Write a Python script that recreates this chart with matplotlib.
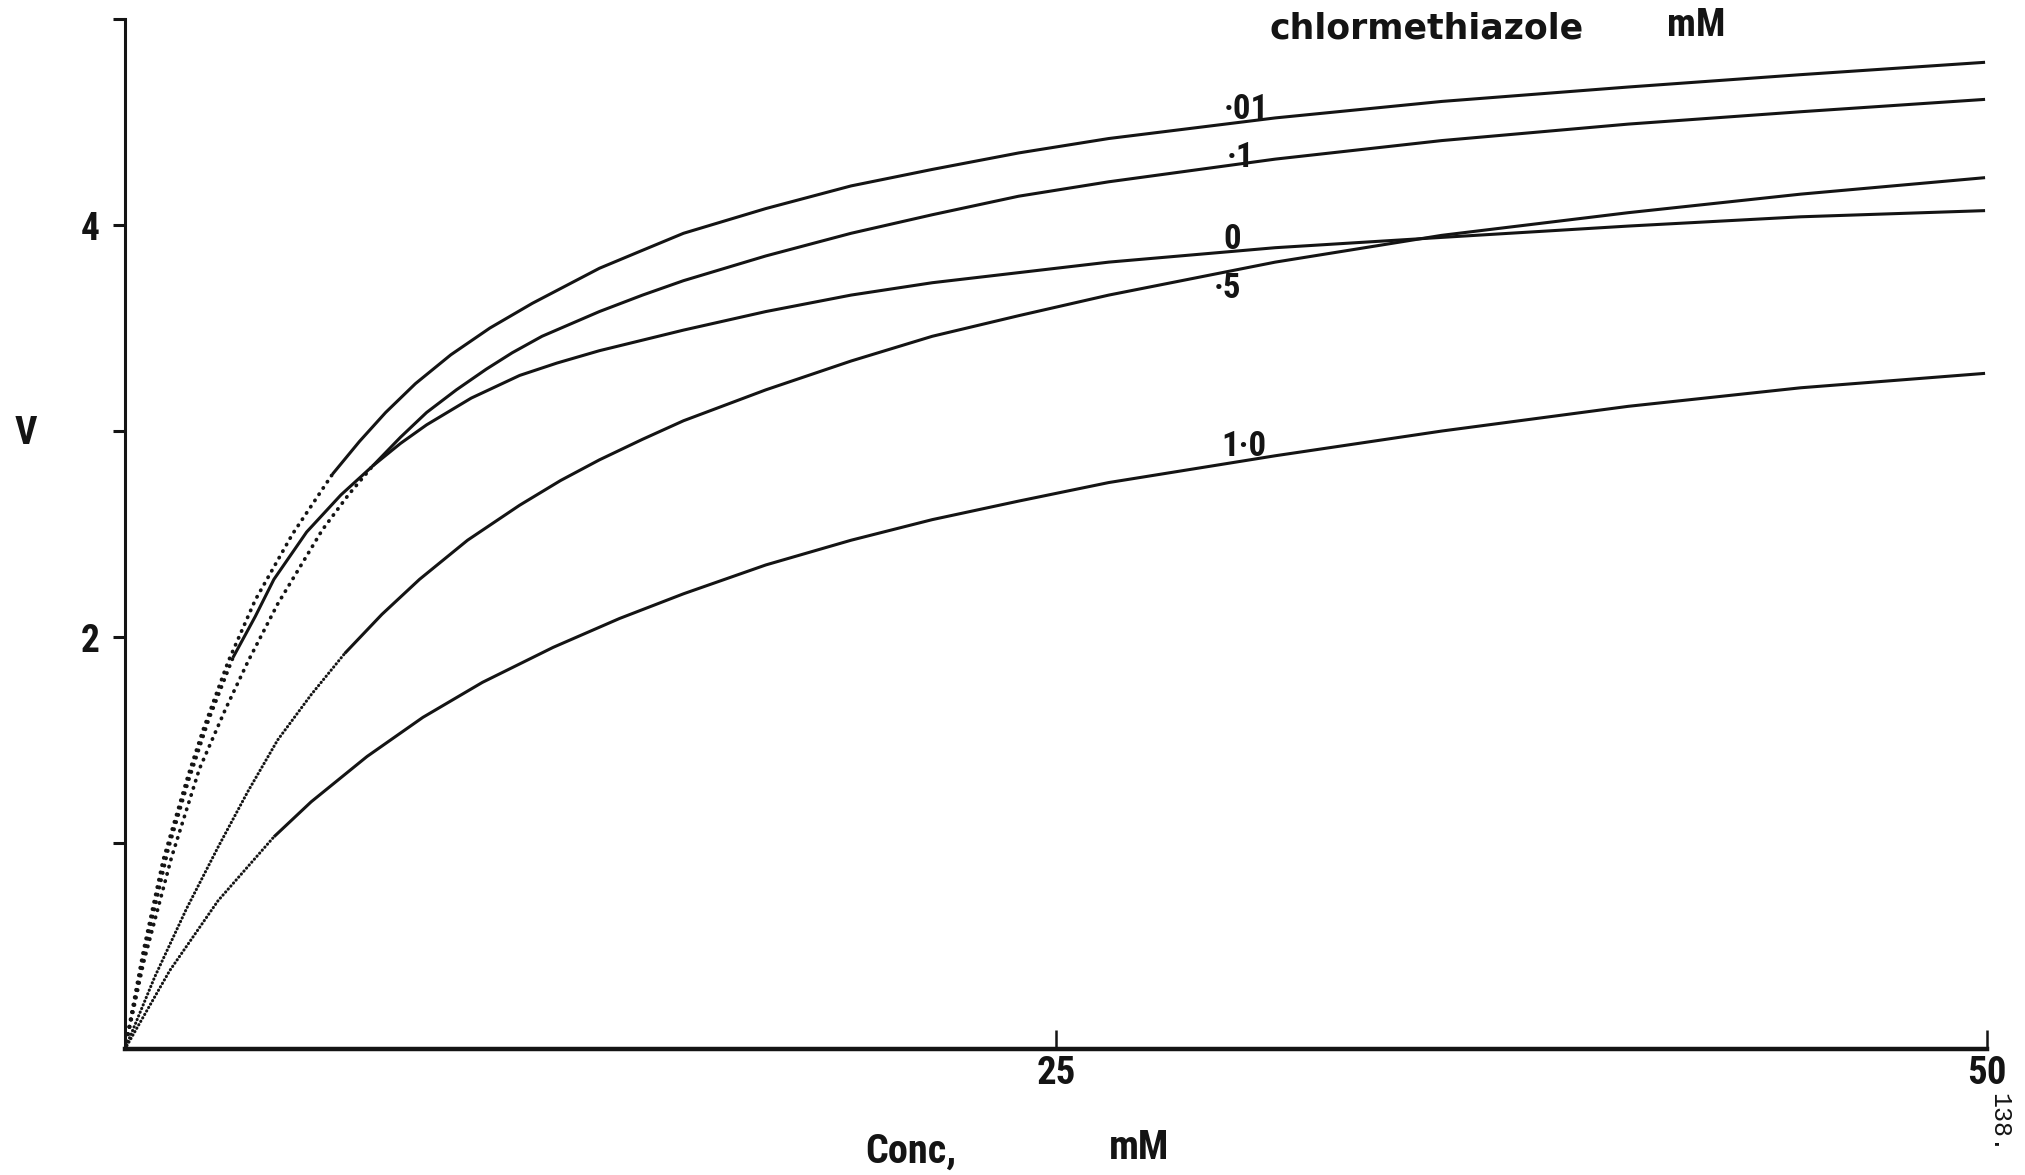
#!/usr/bin/env python3
"""
Velocity vs substrate concentration at several chlormethiazole levels.
Redrawn from a scanned figure (page 138).
"""

import numpy as np
import matplotlib.pyplot as plt
from matplotlib import font_manager

# chlormethiazole concentrations (mM) and their curve labels
conc_labels = ['·01', '·1', '0', '·5', '1·0']

# substrate concentration (mM) / velocity readings for each curve
x_001 = [0, 0.5, 1.03, 1.7, 2.1, 2.77, 3.5, 4.5, 5.57, 6.3, 7.0, 7.8, 8.75, 9.8,
         10.94, 12.74, 13.8, 15.0, 17.21, 19.5, 21.68, 24.0, 26.42, 30.89,
         35.36, 40.37, 45.0, 49.95]
v_001 = [0, 0.48, 0.92, 1.33, 1.55, 1.88, 2.18, 2.50, 2.79, 2.95, 3.09, 3.23, 3.37, 3.50,
         3.62, 3.79, 3.87, 3.96, 4.08, 4.19, 4.27, 4.35, 4.42, 4.52,
         4.60, 4.67, 4.73, 4.79]

x_01 = [0, 0.5, 1.25, 2.0, 2.7, 3.3, 4.1, 5.3, 6.0, 6.65, 7.4, 8.1, 8.9, 9.7,
        10.4, 11.2, 12.74, 13.9, 15.0, 17.21, 19.5, 21.68, 24.0, 26.42, 30.89,
        35.36, 40.37, 45.0, 49.95]
v_01 = [0, 0.42, 0.93, 1.36, 1.65, 1.88, 2.16, 2.52, 2.69, 2.83, 2.97, 3.09, 3.20, 3.30,
        3.38, 3.46, 3.58, 3.66, 3.73, 3.85, 3.96, 4.05, 4.14, 4.21, 4.32,
        4.41, 4.49, 4.55, 4.61]

x_0 = [0, 0.5, 1.16, 1.7, 2.25, 2.9, 3.5, 4.0, 4.88, 5.8, 6.65, 7.4, 8.1, 9.3,
       10.6, 11.6, 12.74, 15.0, 17.21, 19.5, 21.68, 26.42, 30.89, 35.36, 40.37,
       45.0, 49.95]
v_0 = [0, 0.45, 0.97, 1.30, 1.60, 1.90, 2.10, 2.28, 2.51, 2.69, 2.83, 2.94, 3.03, 3.16,
       3.27, 3.33, 3.39, 3.49, 3.58, 3.66, 3.72, 3.82, 3.89, 3.94, 3.995,
       4.04, 4.07]

x_05 = [0, 0.8, 1.65, 2.5, 3.3, 4.1, 5.0, 5.9, 6.9, 7.91, 9.2, 10.6, 11.7, 12.74,
        13.9, 15.0, 17.21, 19.5, 21.68, 24.0, 26.42, 30.89, 35.36, 40.37, 45.0, 49.95]
v_05 = [0, 0.35, 0.68, 0.98, 1.25, 1.50, 1.72, 1.92, 2.11, 2.28, 2.47, 2.64, 2.76, 2.86,
        2.96, 3.05, 3.20, 3.34, 3.46, 3.56, 3.66, 3.82, 3.95, 4.06, 4.15, 4.23]

x_10 = [0, 1.2, 2.5, 4.0, 5.0, 6.5, 8.0, 9.6, 11.5, 13.28, 15.0, 17.21, 19.5,
        21.68, 24.0, 26.42, 30.89, 35.36, 40.37, 45.0, 49.95]
v_10 = [0, 0.38, 0.72, 1.03, 1.20, 1.42, 1.61, 1.78, 1.95, 2.09, 2.21, 2.35, 2.47,
        2.57, 2.66, 2.75, 2.88, 3.00, 3.12, 3.21, 3.28]

# where the drawn (solid) part of each curve starts; below it is extrapolated
measured_from = [5.57, 6.65, 2.9, 5.9, 4.0]

# label anchor points (x, V)
label_x = [30.1, 29.95, 29.73, 29.6, 30.04]
label_y = [4.56, 4.33, 3.93, 3.69, 2.925]

x_ticks = [25, 50]
y_ticks = [1, 2, 3, 4, 5]
y_ticklabels = ['', '2', '', '4', '']


def pick_font(candidates):
    names = {f.name for f in font_manager.fontManager.ttflist}
    for name in candidates:
        if name in names:
            return name
    return 'DejaVu Sans'


def main():
    narrow = pick_font(['Liberation Sans Narrow', 'Roboto Condensed',
                        'Liberation Sans', 'DejaVu Sans'])
    wide = 'DejaVu Sans'
    mono = pick_font(['Liberation Mono', 'DejaVu Sans Mono'])
    ink = '#141414'

    fig = plt.figure(figsize=(20.25, 11.75), dpi=100)
    ax = fig.add_axes([0.0617, 0.1072, 0.9195, 0.8766])

    curves = [(x_001, v_001), (x_01, v_01), (x_0, v_0), (x_05, v_05), (x_10, v_10)]
    # first three have coarse dots, last two fine dots
    dot_lw = [2.7, 2.7, 2.7, 2.2, 2.2]
    dot_gap = [1.9, 1.9, 1.9, 1.2, 1.2]

    for (xs, vs), x_start, lw, gap in zip(curves, measured_from, dot_lw, dot_gap):
        xs = np.asarray(xs)
        vs = np.asarray(vs)
        dotted = xs <= x_start
        solid = xs >= x_start
        ax.plot(xs[dotted], vs[dotted], color=ink, lw=lw,
                linestyle=(0, (0.1, gap)), dash_capstyle='round', clip_on=False)
        ax.plot(xs[solid], vs[solid], color=ink, lw=2.2,
                solid_capstyle='butt', solid_joinstyle='round', clip_on=False)

    # curve labels
    for text, lx, ly in zip(conc_labels, label_x, label_y):
        ax.text(lx, ly, text, ha='center', va='center', fontsize=25,
                fontweight='bold', family=narrow, color=ink)

    ax.set_xlim(0, 50)
    ax.set_ylim(0, 5)

    ax.spines['top'].set_visible(False)
    ax.spines['right'].set_visible(False)
    ax.spines['left'].set_linewidth(2.2)
    ax.spines['bottom'].set_linewidth(3.2)
    ax.spines['left'].set_color(ink)
    ax.spines['bottom'].set_color(ink)

    ax.set_xticks(x_ticks)
    ax.set_xticklabels([str(t) for t in x_ticks])
    ax.set_yticks(y_ticks)
    ax.set_yticklabels(y_ticklabels)
    ax.tick_params(axis='x', direction='in', length=14, width=1.8, pad=4,
                   labelsize=28, colors=ink)
    ax.tick_params(axis='y', direction='out', length=9, width=2.2, pad=9,
                   labelsize=27, colors=ink)
    for lab in ax.get_xticklabels() + ax.get_yticklabels():
        lab.set_fontweight('bold')
        lab.set_family(narrow)

    # axis titles and header
    fig.text(0.0128, 0.6308, 'V', ha='center', va='center', fontsize=28,
             fontweight='bold', family=narrow, color=ink)
    fig.text(0.4496, 0.0198, 'Conc,', ha='center', va='center', fontsize=29,
             fontweight='bold', family=narrow, color=ink)
    fig.text(0.5625, 0.0231, 'mM', ha='center', va='center', fontsize=29,
             fontweight='bold', family=narrow, color=ink)
    fig.text(0.7047, 0.9758, 'chlormethiazole', ha='center', va='center',
             fontsize=25, fontweight='bold', family=wide, color=ink)
    fig.text(0.8374, 0.978, 'mM', ha='center', va='center', fontsize=28,
             fontweight='bold', family=narrow, color=ink)

    # page number from the scan
    fig.text(0.9872, 0.044, '138.', ha='center', va='center', fontsize=18,
             rotation=-90, family=mono, color=ink)

    fig.savefig('out.png', dpi=100, facecolor='white')


if __name__ == "__main__":
    main()
